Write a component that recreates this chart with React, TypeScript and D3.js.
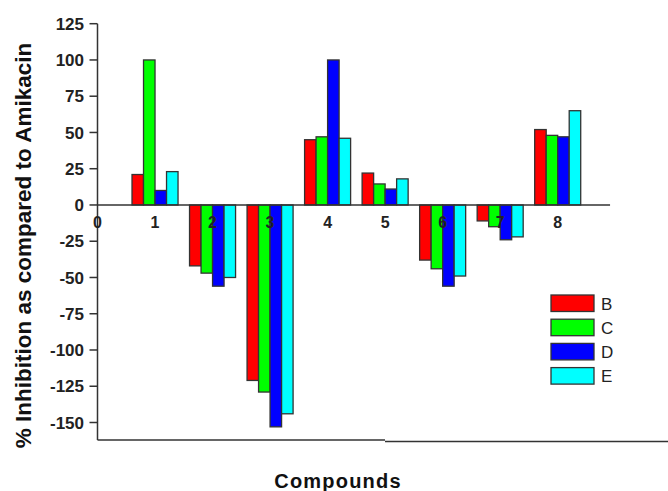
import * as React from "react";
import * as d3 from "d3";

// compounds on the x axis
const compounds = [1, 2, 3, 4, 5, 6, 7, 8];
const seriesNames = ["B", "C", "D", "E"];
const seriesColors = ["#ff0000", "#00ff00", "#0000ff", "#00ffff"];

const valuesB = [21, -42, -121, 45, 22, -38, -11, 52];
const valuesC = [100, -47, -129, 47, 14.5, -44, -15, 48];
const valuesD = [10, -56, -153, 100, 11, -56, -24, 47];
const valuesE = [23, -50, -144, 46, 18, -49, -22, 65];

const yTicks = [125, 100, 75, 50, 25, 0, -25, -50, -75, -100, -125, -150];
const xTicks = [0, 1, 2, 3, 4, 5, 6, 7, 8];

function drawChart(svgEl: SVGSVGElement) {
  const svg = d3.select(svgEl);
  svg.selectAll("*").remove();

  const allSeries = [valuesB, valuesC, valuesD, valuesE];

  const x = d3.scaleLinear().domain([0, 8]).range([97.5, 557.7]);
  const y = d3.scaleLinear().domain([-150, 125]).range([422.5, 23.7]);
  const axisColor = "#333";
  const barW = 0.2;

  // bars
  const g = svg.append("g");
  compounds.forEach((c, i) => {
    allSeries.forEach((vals, j) => {
      const v = vals[i];
      const x0 = x(c - 0.4 + j * barW);
      const x1 = x(c - 0.4 + (j + 1) * barW);
      g.append("rect")
        .attr("x", x0)
        .attr("y", Math.min(y(v), y(0)))
        .attr("width", x1 - x0)
        .attr("height", Math.abs(y(v) - y(0)))
        .attr("fill", seriesColors[j])
        .attr("stroke", axisColor)
        .attr("stroke-width", 1.3);
    });
  });

  // zero line
  svg.append("line")
    .attr("x1", x(0)).attr("x2", x(8.91))
    .attr("y1", y(0)).attr("y2", y(0))
    .attr("stroke", axisColor).attr("stroke-width", 1.5);

  // y axis
  svg.append("line")
    .attr("x1", x(0)).attr("x2", x(0))
    .attr("y1", y(125)).attr("y2", y(-162))
    .attr("stroke", axisColor).attr("stroke-width", 1.5);

  // bottom frame (broken in two pieces, as in the original)
  svg.append("line")
    .attr("x1", x(0)).attr("x2", 385)
    .attr("y1", y(-162)).attr("y2", y(-162))
    .attr("stroke", axisColor).attr("stroke-width", 1.5);
  svg.append("line")
    .attr("x1", 385).attr("x2", 668)
    .attr("y1", y(-162) + 1.5).attr("y2", y(-162) + 1.5)
    .attr("stroke", axisColor).attr("stroke-width", 1.5);

  const yt = svg.append("g");
  yTicks.forEach((t) => {
    yt.append("line")
      .attr("x1", x(0) - 8).attr("x2", x(0))
      .attr("y1", y(t)).attr("y2", y(t))
      .attr("stroke", axisColor).attr("stroke-width", 1.5);
    yt.append("text")
      .attr("x", 84)
      .attr("y", y(t))
      .attr("dy", "0.36em")
      .attr("text-anchor", "end")
      .attr("font-family", "Arial, 'Liberation Sans', sans-serif")
      .attr("font-weight", "bold")
      .attr("font-size", 17)
      .attr("fill", "#222")
      .text(t);
  });

  const xt = svg.append("g");
  xTicks.forEach((t) => {
    xt.append("text")
      .attr("x", x(t))
      .attr("y", 228)
      .attr("text-anchor", "middle")
      .attr("font-family", "Arial, 'Liberation Sans', sans-serif")
      .attr("font-weight", "bold")
      .attr("font-size", 16)
      .attr("fill", "#222")
      .text(t);
  });

  // axis titles
  svg.append("text")
    .attr("transform", "translate(31,245.5) rotate(-90)")
    .attr("text-anchor", "middle")
    .attr("font-family", "Arial, 'Liberation Sans', sans-serif")
    .attr("font-weight", "bold")
    .attr("font-size", 22.5)
    .attr("fill", "#111")
    .text("% Inhibition as compared to Amikacin");

  svg.append("text")
    .attr("x", 338)
    .attr("y", 488)
    .attr("text-anchor", "middle")
    .attr("font-family", "Arial, 'Liberation Sans', sans-serif")
    .attr("font-weight", "bold")
    .attr("font-size", 20)
    .attr("letter-spacing", 1.2)
    .attr("fill", "#111")
    .text("Compounds");

  // legend
  const legend = svg.append("g").attr("transform", "translate(551,295)");
  seriesNames.forEach((name, i) => {
    legend.append("rect")
      .attr("x", 0).attr("y", i * 24.2)
      .attr("width", 43).attr("height", 16.5)
      .attr("fill", seriesColors[i])
      .attr("stroke", axisColor).attr("stroke-width", 1.3);
    legend.append("text")
      .attr("x", 50).attr("y", i * 24.2 + 8.5)
      .attr("dy", "0.36em")
      .attr("font-family", "Arial, 'Liberation Sans', sans-serif")
      .attr("font-size", 17)
      .attr("fill", "#222")
      .text(name);
  });
}

const Chart = () => {
  const svg = React.useRef<SVGSVGElement>(null);
  React.useEffect(() => {
    if (svg.current) drawChart(svg.current);
  }, [svg]);

  return (
    <div id="chart" style={{ position: "absolute", left: 0, top: 0 }}>
      <svg ref={svg} width={668} height={491} style={{ display: "block", background: "#fff" }}></svg>
    </div>
  );
};

export default Chart;
